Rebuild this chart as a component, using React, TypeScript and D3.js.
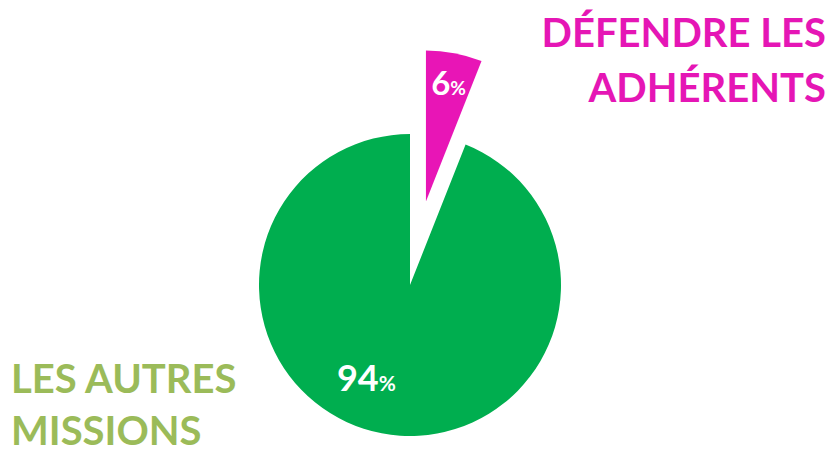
import * as d3 from 'd3';

const categories = ['DÉFENDRE LES ADHÉRENTS', 'LES AUTRES MISSIONS'];
const values = [6, 94];
const sliceColors = ['#E815B6', '#00AE4F'];
const labelColors = ['#E516B5', '#9BBB59'];
const labelLines = [['DÉFENDRE LES', 'ADHÉRENTS'], ['LES AUTRES', 'MISSIONS']];

export default function App() {
    const width = 829;
    const height = 454;
    const cx = 410;
    const cy = 285;
    const radius = 151;
    const explode = 85;

    const data = categories.map((c, i) => ({ label: c, value: values[i] }));
    const pie = d3.pie<{ label: string; value: number }>().value(d => d.value).sort(null);
    const arcs = pie(data);
    const arc = d3.arc<d3.PieArcDatum<{ label: string; value: number }>>()
        .innerRadius(0)
        .outerRadius(radius);

    const font = 'Lato, "Open Sans", sans-serif';

    return (
        <svg width={width} height={height} style={{ position: 'absolute', left: 0, top: 0 }}>
            <rect width={width} height={height} fill="#fff" />
            {arcs.map((a, i) => {
                const mid = (a.startAngle + a.endAngle) / 2;
                const off = i === 0 ? explode : 0;
                const tx = cx + Math.sin(mid) * off;
                const ty = cy - Math.cos(mid) * off;
                // label placement: pink at 0.8r along mid angle, green lower-left
                const lAng = i === 0 ? mid : mid + 0.25;
                const lR = i === 0 ? radius * 0.8 : radius * 0.68;
                const lx = Math.sin(lAng) * lR;
                const ly = -Math.cos(lAng) * lR;
                const big = i === 0 ? 33 : 36;
                return (
                    <g key={i} transform={`translate(${tx},${ty})`}>
                        <path d={arc(a) ?? ''} fill={sliceColors[i]} />
                        <text x={lx} y={ly} textAnchor="middle" dy="0.36em" fill="#fff"
                            fontFamily={font} fontWeight="bold" fontSize={big}>
                            {a.value}<tspan fontSize={big * 0.58}>%</tspan>
                        </text>
                    </g>
                );
            })}
            <text fill={labelColors[0]} fontFamily={font} fontWeight="bold" fontSize={40} textAnchor="end">
                <tspan x={826} y={47}>{labelLines[0][0]}</tspan>
                <tspan x={826} y={102}>{labelLines[0][1]}</tspan>
            </text>
            <text fill={labelColors[1]} fontFamily={font} fontWeight="bold" fontSize={40}>
                <tspan x={11} y={393}>{labelLines[1][0]}</tspan>
                <tspan x={11} y={445}>{labelLines[1][1]}</tspan>
            </text>
        </svg>
    );
}
